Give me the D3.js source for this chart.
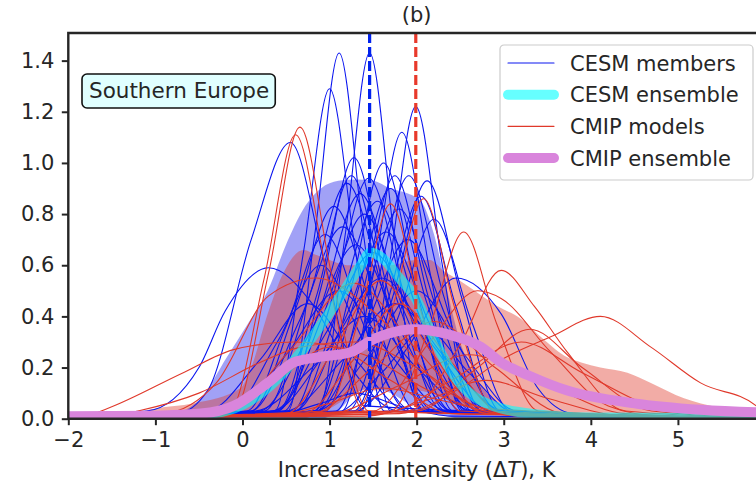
<!DOCTYPE html>
<html>
<head>
<meta charset="utf-8">
<script src="https://cdn.jsdelivr.net/npm/d3@7"></script>
<style>
  html, body { margin: 0; padding: 0; background: #fff; }
  svg text { font-family: "DejaVu Sans", sans-serif; fill: #262626; }
</style>
</head>
<body>
<svg id="chart" width="756" height="485"></svg>
<script>
// ---- data ----
const xTicks = [-2, -1, 0, 1, 2, 3, 4, 5];
const yTicks = [0, 0.2, 0.4, 0.6, 0.8, 1.0, 1.2, 1.4];
const regionName = "Southern Europe";
const panelTitle = "(b)";
const legendLabels = ["CESM members", "CESM ensemble", "CMIP models", "CMIP ensemble"];
const cesmMean = 1.46;
const cmipMean = 1.99;

// CESM members, [x, density] points along each curve
const cesmMembers = [
  [[0.52,.03],[.83,.72],[1.11,1.43],[1.39,.72],[1.70,.03]],
  [[0.87,.03],[1.18,.72],[1.46,1.43],[1.74,.72],[2.05,.03]],
  [[0.37,.03],[.70,.65],[1.00,1.29],[1.30,.65],[1.63,.03]],
  [[1.36,.03],[1.69,.61],[1.99,1.22],[2.29,.61],[2.62,.03]],
  [[1.14,.03],[1.50,.56],[1.83,1.12],[2.16,.56],[2.52,.03]],
  [[-0.75,.02],[-0.4,.11],[0.1,.7],[0.55,1.08],[0.95,.6],[1.4,.05]],
  [[.48,.03],[.90,.51],[1.28,1.02],[1.66,.51],[2.08,.03]],
  [[.82,.03],[1.24,.5],[1.62,1.0],[2.0,.5],[2.42,.03]],
  [[1.28,.03],[1.72,.47],[2.12,.93],[2.52,.47],[2.96,.03]],
  [[1.07,.03],[1.51,.48],[1.91,.95],[2.31,.48],[2.75,.03]],
  [[.57,.03],[1.03,.47],[1.45,.94],[1.87,.47],[2.33,.03]],
  [[-1.75,.01],[-1.5,.025],[-1.1,.03],[-.5,.2],[-.2,.42],[.3,.59],[.8,.45],[1.2,.22],[1.8,.03]],
  [[.25,.03],[.75,.46],[1.2,.92],[1.65,.46],[2.15,.03]],
  [[.82,.03],[1.28,.45],[1.7,.9],[2.12,.45],[2.58,.03]],
  [[.4,.03],[.9,.44],[1.35,.88],[1.8,.44],[2.3,.03]],
  [[1.21,.03],[1.65,.44],[2.05,.87],[2.45,.44],[2.89,.03]],
  [[.6,.03],[1.1,.43],[1.55,.85],[2.0,.43],[2.5,.03]],
  [[.1,.03],[.6,.42],[1.05,.83],[1.5,.42],[2.0,.03]],
  [[.85,.03],[1.35,.41],[1.8,.82],[2.25,.41],[2.75,.03]],
  [[.4,.03],[.92,.4],[1.4,.8],[1.88,.4],[2.4,.03]],
  [[1.32,.03],[1.78,.39],[2.2,.78],[2.62,.39],[3.08,.03]],
  [[.1,.03],[.65,.38],[1.15,.75],[1.65,.38],[2.2,.03]],
  [[.6,.03],[1.15,.37],[1.65,.73],[2.15,.37],[2.7,.03]],
  [[.85,.03],[1.4,.35],[1.9,.7],[2.4,.35],[2.95,.03]],
  [[.2,.03],[.78,.34],[1.3,.68],[1.82,.34],[2.4,.03]],
  [[.35,.03],[.95,.33],[1.5,.65],[2.05,.33],[2.65,.03]],
  [[1.3,.03],[1.9,.28],[2.45,.55],[2.97,.41],[3.39,.12],[3.8,.02]],
  [[-.15,.03],[.4,.3],[.9,.6],[1.4,.3],[1.95,.03]],
  [[.35,.03],[1.0,.28],[1.6,.55],[2.2,.28],[2.85,.03]],
  [[-.15,.03],[.5,.25],[1.1,.5],[1.7,.25],[2.35,.03]],
  [[.85,.03],[1.45,.25],[2.0,.5],[2.55,.25],[3.15,.03]],
  [[-.4,.03],[.2,.23],[.75,.45],[1.3,.23],[1.9,.03]],
  [[.5,.03],[1.15,.23],[1.75,.45],[2.35,.23],[3.0,.03]],
  [[.15,.03],[.8,.2],[1.4,.4],[2.0,.2],[2.65,.03]],
  [[1.05,.02],[1.6,.18],[2.1,.35],[2.6,.18],[3.15,.02]],
  [[0.3,.01],[0.9,.06],[1.3,.1],[1.8,.05],[2.4,.01]],
  [[.4,.03],[.85,.48],[1.25,.95],[1.65,.48],[2.1,.03]],
  [[.95,.03],[1.37,.48],[1.75,.95],[2.13,.48],[2.55,.03]],
  [[.05,.03],[.5,.36],[.95,.72],[1.4,.36],[1.9,.03]]
];

// CMIP models
const cmipModels = [
  [[-0.1,.03],[.3,.57],[.66,1.14],[1.02,.57],[1.45,.03]],
  [[-0.15,.03],[.25,.55],[.61,1.11],[.98,.55],[1.4,.03]],
  [[1.7,.03],[2.16,.37],[2.54,.73],[2.92,.37],[3.4,.03]],
  [[1.9,.03],[2.5,.29],[2.97,.58],[3.35,.44],[3.73,.26],[4.4,.03]],
  [[1.8,.02],[2.5,.12],[2.97,.23],[3.54,.32],[4.11,.40],[4.69,.28],[5.26,.14],[5.9,.05]],
  [[1.3,.03],[1.72,.43],[2.08,.86],[2.44,.43],[2.9,.03]],
  [[.95,.03],[1.36,.42],[1.7,.84],[2.05,.42],[2.5,.03]],
  [[-0.9,.02],[-.3,.14],[.3,.48],[.85,.55],[1.5,.42],[2.3,.12],[3.1,.02]],
  [[-.2,.02],[.55,.27],[1.28,.53],[2.0,.27],[2.8,.02]],
  [[.5,.02],[1.05,.27],[1.59,.54],[2.15,.27],[2.8,.02]],
  [[1.5,.03],[2.15,.3],[2.7,.5],[2.97,.47],[3.54,.26],[4.2,.05],[4.8,.01]],
  [[-1.8,.01],[-1.55,.04],[-.68,.18],[-.1,.27],[.6,.3],[1.4,.25],[2.2,.1],[3.0,.02]],
  [[-1.5,.01],[-1.2,.03],[-.5,.1],[.2,.22],[.67,.28],[1.3,.3],[2.0,.2],[2.8,.04]],
  [[.8,.02],[1.5,.2],[2.2,.38],[2.9,.2],[3.7,.02]],
  [[1.0,.02],[1.8,.13],[2.6,.25],[3.4,.15],[4.4,.02]],
  [[1.6,.02],[2.4,.15],[3.2,.3],[3.9,.18],[4.8,.04],[5.6,.01]],
  [[.7,.02],[1.25,.22],[1.8,.45],[2.4,.22],[3.0,.02]],
  [[-.3,.02],[.4,.15],[1.0,.28],[1.7,.15],[2.4,.02]],
  [[2.0,.03],[2.7,.2],[3.3,.35],[3.9,.2],[4.7,.03]],
  [[.3,.01],[1.0,.06],[1.6,.12],[2.3,.07],[3.2,.01]],
  [[1.4,.01],[2.1,.07],[2.8,.15],[3.5,.08],[4.4,.01]]
];

const cesmEnsemble = [[-2,.005],[-1,.008],[-.5,.015],[-.1,.04],[.29,.12],[.67,.26],[1.05,.44],
  [1.36,.6],[1.47,.65],[1.6,.63],[1.8,.55],[1.99,.47],[2.2,.31],[2.47,.15],[2.74,.07],
  [3.31,.02],[4,.005],[6,.003]];

const cmipEnsemble = [[-2,.01],[-1,.012],[-.48,.02],[-.1,.05],[.29,.14],[.59,.22],[.86,.24],
  [1.24,.26],[1.5,.31],[1.65,.33],[1.97,.35],[2.36,.33],[2.74,.28],[2.97,.22],[3.28,.17],
  [3.73,.11],[4.5,.06],[5.26,.035],[5.9,.025],[6,.024]];

// spread bands: [x, lower, upper]
const cesmBand = [[-2,0,.01],[-1,0,.015],[-.7,0,.03],[-.48,0,.08],[-.18,0,.24],[.06,0,.37],
  [.29,0,.5],[.5,0,.68],[.7,0,.82],[.9,0,.9],[1.1,.03,.93],[1.3,.1,.935],[1.5,.12,.93],
  [1.7,.1,.9],[1.9,.06,.88],[2.05,.04,.85],[2.2,.02,.72],[2.35,.01,.5],[2.5,0,.3],
  [2.7,0,.15],[3.0,0,.05],[3.4,0,.015],[4,0,.005],[6,0,0]];

const cmipBand = [[-2,0,.012],[-1.3,0,.02],[-1,0,.04],[-.56,0,.06],[-.02,0,.12],[.1,0,.2],
  [.29,0,.41],[.47,0,.57],[.7,0,.66],[.85,.02,.64],[1.0,.04,.62],[1.2,.08,.6],[1.4,.11,.6],
  [1.7,.11,.6],[2.0,.11,.62],[2.15,.1,.62],[2.3,.08,.58],[2.54,.05,.53],[2.93,.02,.44],
  [3.2,.01,.39],[3.46,0,.31],[3.73,0,.24],[3.89,0,.22],[4.11,0,.2],[4.42,0,.18],
  [4.69,0,.14],[5.07,0,.08],[5.46,0,.045],[5.9,0,.03],[6,0,.03]];

// ---- drawing ----
const svg = d3.select("#chart");
const margin = { top: 33, left: 68.3 };
const plotW = 765 - margin.left;
const plotH = 418.7 - margin.top;
const fontSize = 21;

const x = d3.scaleLinear().domain([-2, 6]).range([0, plotW]);
const y = d3.scaleLinear().domain([0, 1.508]).range([plotH, 0]);

const colors = {
  cesm: "#0b16f0",
  cmip: "#e0392b",
  cesmEns: "#00ffff",
  cmipEns: "#d985dc",
  ink: "#262626"
};

svg.append("defs").append("clipPath").attr("id", "plot-clip")
  .append("rect").attr("width", plotW).attr("height", plotH);

const g = svg.append("g").attr("transform", `translate(${margin.left},${margin.top})`);
const plot = g.append("g").attr("clip-path", "url(#plot-clip)");

const line = d3.line().x(d => x(d[0])).y(d => y(d[1])).curve(d3.curveMonotoneX);
const band = d3.area().x(d => x(d[0])).y0(d => y(d[1])).y1(d => y(d[2])).curve(d3.curveMonotoneX);
const withTails = pts => [[x.domain()[0], 0.003], ...pts, [x.domain()[1], 0.002]];

plot.append("path").datum(cesmBand).attr("d", band)
  .attr("fill", "#0000e6").attr("fill-opacity", 0.37);
plot.append("path").datum(cmipBand).attr("d", band)
  .attr("fill", colors.cmip).attr("fill-opacity", 0.42);

plot.append("g").selectAll("path").data(cesmMembers).enter().append("path")
  .attr("d", d => line(withTails(d)))
  .attr("fill", "none").attr("stroke", colors.cesm).attr("stroke-width", 1.1);

plot.append("g").selectAll("path").data(cmipModels).enter().append("path")
  .attr("d", d => line(withTails(d)))
  .attr("fill", "none").attr("stroke", colors.cmip).attr("stroke-width", 1.1);

plot.append("path").datum(cesmEnsemble).attr("d", line)
  .attr("fill", "none").attr("stroke", colors.cesmEns).attr("stroke-opacity", 0.6)
  .attr("stroke-width", 10).attr("stroke-linecap", "round");

plot.append("path").datum(cmipEnsemble).attr("d", line)
  .attr("fill", "none").attr("stroke", colors.cmipEns)
  .attr("stroke-width", 10).attr("stroke-linecap", "round");

// mean markers
[[cesmMean, "#0022ee"], [cmipMean, "#e8392b"]].forEach(([m, c]) => {
  plot.append("line")
    .attr("x1", x(m)).attr("x2", x(m)).attr("y1", 0).attr("y2", plotH)
    .attr("stroke", c).attr("stroke-width", 3.2).attr("stroke-dasharray", "10,4");
});

// axes
const xAxis = d3.axisBottom(x).tickValues(xTicks)
  .tickFormat(d => d < 0 ? "\u2212" + Math.abs(d) : d)
  .tickSize(6.5).tickPadding(7);
const yAxis = d3.axisLeft(y).tickValues(yTicks).tickFormat(d3.format(".1f"))
  .tickSize(6.5).tickPadding(7.5);

const gx = g.append("g").attr("transform", `translate(0,${plotH})`).call(xAxis);
const gy = g.append("g").call(yAxis);
[gx, gy].forEach(a => {
  a.select(".domain").remove();
  a.selectAll("line").attr("stroke", colors.ink).attr("stroke-width", 2);
  a.selectAll("text").attr("font-size", fontSize).attr("fill", colors.ink);
});

// spines: left, top, bottom
g.append("path")
  .attr("d", `M${plotW},0H0V${plotH}H${plotW}`)
  .attr("fill", "none").attr("stroke", colors.ink).attr("stroke-width", 2.4);

// labels
const xl = svg.append("text")
  .attr("x", margin.left + plotW / 2).attr("y", 477)
  .attr("text-anchor", "middle").attr("font-size", fontSize);
xl.append("tspan").text("Increased Intensity (\u0394");
xl.append("tspan").attr("font-style", "italic").text("T");
xl.append("tspan").text("), K");

svg.append("text")
  .attr("x", margin.left + plotW / 2).attr("y", 22)
  .attr("text-anchor", "middle").attr("font-size", fontSize)
  .text(panelTitle);

// region box
const rb = g.append("g").attr("transform", `translate(${82 - margin.left},${74 - margin.top})`);
const rt = rb.append("text").attr("x", 7).attr("y", 24).attr("font-size", 21.5).text(regionName);
const rw = rt.node().getComputedTextLength();
rb.insert("rect", "text")
  .attr("width", rw + 13).attr("height", 34).attr("rx", 5)
  .attr("fill", "#e0ffff").attr("stroke", "#111").attr("stroke-width", 1.6);

// legend
const lg = svg.append("g").attr("transform", "translate(500,45)");
lg.append("rect").attr("width", 253).attr("height", 135).attr("rx", 4)
  .attr("fill", "#fff").attr("fill-opacity", 0.85)
  .attr("stroke", "#cccccc").attr("stroke-width", 1.2);

const legendStyle = [
  { color: colors.cesm, width: 1.1, opacity: 1 },
  { color: colors.cesmEns, width: 10, opacity: 0.6 },
  { color: colors.cmip, width: 1.1, opacity: 1 },
  { color: colors.cmipEns, width: 10, opacity: 1 }
];
const rowY = d3.scalePoint().domain(legendLabels).range([18, 113]);

const rows = lg.selectAll("g.row").data(legendLabels).enter().append("g")
  .attr("class", "row")
  .attr("transform", d => `translate(0,${rowY(d)})`);
rows.append("line")
  .attr("x1", 8).attr("x2", 54)
  .attr("stroke", (d, i) => legendStyle[i].color)
  .attr("stroke-width", (d, i) => legendStyle[i].width)
  .attr("stroke-opacity", (d, i) => legendStyle[i].opacity)
  .attr("stroke-linecap", "round");
rows.append("text")
  .attr("x", 70).attr("dy", "0.36em").attr("font-size", fontSize)
  .text(d => d);
</script>
</body>
</html>
